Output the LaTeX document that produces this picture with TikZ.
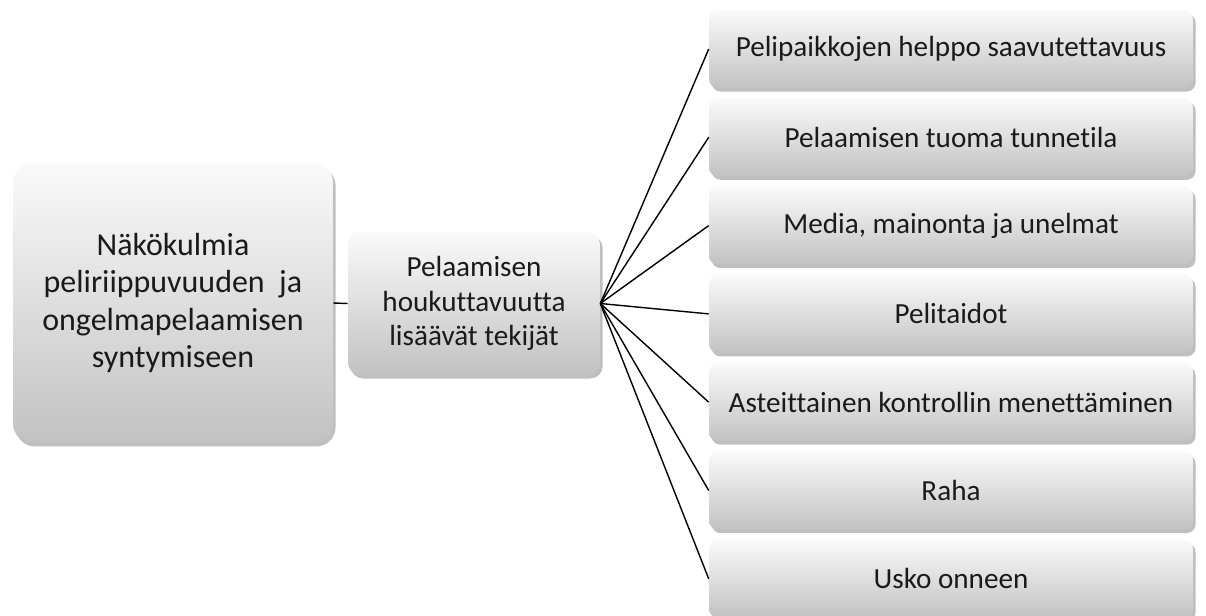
\documentclass[tikz,border=0pt]{standalone}
\usepackage{fontspec}
\setmainfont{Carlito}[Ligatures=NoCommon]
\usepackage{tikz}
\usetikzlibrary{shadows,positioning}
\definecolor{boxtop}{HTML}{FAFAFA}
\definecolor{boxbot}{HTML}{C2C2C2}
\definecolor{boxtext}{HTML}{1A1A1A}
\begin{document}
\begin{tikzpicture}[x=0.02cm,y=-0.02cm,
  gradbox/.style={shade,top color=boxtop,bottom color=boxbot,align=center,text=boxtext,
    drop shadow={shadow xshift=1.5pt,shadow yshift=-2pt,opacity=.25,fill=black}},
  rootbox/.style={gradbox,rounded corners=11pt,minimum width=6.4cm,minimum height=5.6cm,
    font=\fontsize{18.2}{21.2}\selectfont},
  midbox/.style={gradbox,rounded corners=7pt,minimum width=5.04cm,minimum height=2.86cm,
    font=\fontsize{16.6}{19.6}\selectfont},
  itembox/.style={gradbox,rounded corners=5pt,minimum width=9.68cm,minimum height=1.56cm,
    font=\fontsize{16.6}{19.6}\selectfont},
  link/.style={black,line width=0.8pt}]
\useasboundingbox (0,0) rectangle (1206,615);
\node[rootbox] (root) at (173,303) {Näkökulmia\\peliriippuvuuden\ \ ja\\ongelmapelaamisen\\syntymiseen};
\node[midbox] (mid) at (474,303.5) {Pelaamisen\\houkuttavuutta\\lisäävät tekijät};
\node[itembox] (f1) at (951,49) {Pelipaikkojen helppo saavutettavuus};
\node[itembox] (f2) at (951,137.3) {Pelaamisen tuoma tunnetila};
\node[itembox] (f3) at (951,225.6) {Media, mainonta ja unelmat};
\node[itembox] (f4) at (951,313.9) {Pelitaidot};
\node[itembox] (f5) at (951,402.2) {Asteittainen kontrollin menettäminen};
\node[itembox] (f6) at (951,490.5) {Raha};
\node[itembox] (f7) at (951,578.8) {Usko onneen};
% connectors
\draw[link] (root.east) -- (mid.west);
\foreach \i in {1,...,7}
  \draw[link] (mid.east) -- (f\i.west);
\end{tikzpicture}
\end{document}
